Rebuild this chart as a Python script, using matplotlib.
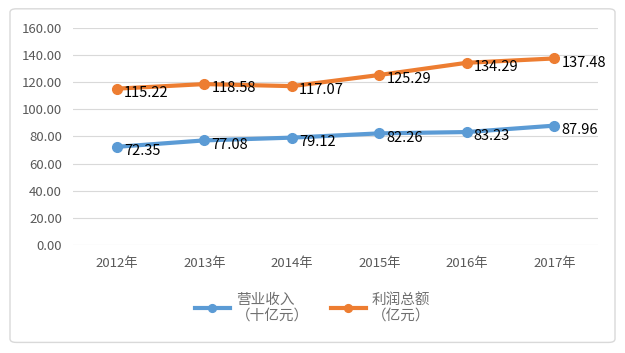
import matplotlib
matplotlib.use("Agg")
import matplotlib.pyplot as plt
from matplotlib.patches import FancyBboxPatch

plt.rcParams['font.family'] = ['Noto Sans CJK SC', 'DejaVu Sans']

years = ['2012年', '2013年', '2014年', '2015年', '2016年', '2017年']
revenue = [72.35, 77.08, 79.12, 82.26, 83.23, 87.96]
profit = [115.22, 118.58, 117.07, 125.29, 134.29, 137.48]
yticks = [0, 20, 40, 60, 80, 100, 120, 140, 160]

blue = '#5B9BD5'
orange = '#ED7D31'

fig = plt.figure(figsize=(6.25, 3.53), dpi=100)
ax = fig.add_axes([0.117, 0.306, 0.840, 0.615])

x = list(range(len(years)))
ax.plot(x, revenue, color=blue, lw=3, marker='o', ms=7, label='营业收入\n（十亿元）', zorder=3)
ax.plot(x, profit, color=orange, lw=3, marker='o', ms=7, label='利润总额\n（亿元）', zorder=3)

for series in (revenue, profit):
    for i, v in enumerate(series):
        ax.annotate('%.2f' % v, (i, v), xytext=(5, -3), textcoords='offset points',
                    ha='left', va='center', fontsize=10.5, color='black')

ax.set_xlim(-0.5, len(years) - 0.5)
ax.set_ylim(0, 160)
ax.set_yticks(yticks)
ax.set_yticklabels(['%.2f' % t for t in yticks])
ax.set_xticks(x)
ax.set_xticklabels(years)
ax.tick_params(axis='both', length=0, labelsize=9.5, labelcolor='#595959')
ax.tick_params(axis='x', pad=9)
ax.tick_params(axis='y', pad=8)
ax.grid(axis='y', color='#D9D9D9', lw=0.8)
ax.set_axisbelow(True)
for s in ax.spines.values():
    s.set_visible(False)

fig.legend(loc='center', bbox_to_anchor=(0.5, 0.128), ncol=2, frameon=False,
           fontsize=10.5, labelcolor='#707070', handlelength=2.4, columnspacing=1.5,
           handletextpad=0.4, markerscale=0.8)

border = FancyBboxPatch((0.016, 0.03), 0.968, 0.945, boxstyle='round,pad=0,rounding_size=0.01',
                        transform=fig.transFigure, fill=False, edgecolor='#D9D9D9', lw=1)
fig.patches.append(border)

fig.savefig('out.png', dpi=100)
